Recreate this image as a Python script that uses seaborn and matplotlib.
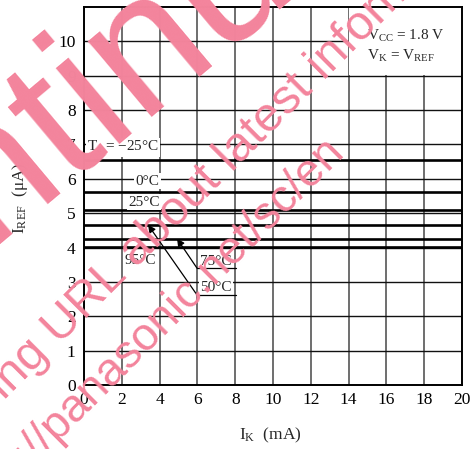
import numpy as np
import pandas as pd
import matplotlib
matplotlib.use("Agg")
import matplotlib.pyplot as plt
import seaborn as sns
from matplotlib.font_manager import FontProperties
from matplotlib.textpath import TextToPath

# Reference current vs cathode current at several ambient temperatures
temps = ["-25", "0", "25", "50", "75", "95"]
iref_ua = [6.56, 5.63, 5.10, 4.66, 4.26, 4.02]
ik_ends = [0, 20]
x_ticks = list(range(0, 21, 2))
y_ticks = list(range(0, 11))

rows = [(t, ik, v) for t, v in zip(temps, iref_ua) for ik in ik_ends]
df = pd.DataFrame(rows, columns=["Ta", "IK", "IREF"])

sns.set_theme(style="white")
plt.rcParams["font.family"] = ["Liberation Serif", "DejaVu Serif"]
plt.rcParams["mathtext.fontset"] = "custom"
plt.rcParams["mathtext.rm"] = "Liberation Serif"
plt.rcParams["mathtext.it"] = "Liberation Serif:italic"

W, H = 475, 449
fig = plt.figure(figsize=(W / 100, H / 100), dpi=100)
ax = fig.add_axes([84 / W, 1 - 385 / H, (462 - 84) / W, (385 - 7) / H])

sns.lineplot(data=df, x="IK", y="IREF", hue="Ta", palette=["black"] * len(temps),
             legend=False, lw=1.9, ax=ax, zorder=2)

ax.set_xlim(0, 20)
ax.set_ylim(0, 11)
ax.set_xticks(x_ticks)
ax.set_yticks(y_ticks)
ax.tick_params(axis="both", length=0, labelsize=12.5, colors="black")
ax.tick_params(axis="x", pad=5)
ax.tick_params(axis="y", pad=6)
ax.set_xlabel("")
ax.set_ylabel("")
for sp in ax.spines.values():
    sp.set_color("black")
    sp.set_linewidth(1.4)

ax.set_axisbelow(True)
ax.xaxis.grid(True, color="#555555", lw=1.2)
ax.yaxis.grid(True, color="#111111", lw=1.0)

# condition box in the upper right corner
ax.add_patch(plt.Rectangle((14.04, 9.03), 5.96, 1.97, facecolor="white",
                           edgecolor="none", zorder=1.5))
ax.text(14.97, 10.17, r"$\mathrm{V_{CC}}$ = 1.8 V", fontsize=11, va="center", ha="left")
ax.text(14.97, 9.59, r"$\mathrm{V_K}$ = $\mathrm{V_{REF}}$", fontsize=11, va="center", ha="left")

box = dict(facecolor="white", edgecolor="none", pad=1.0)
lab_kw = dict(fontsize=11, va="center", zorder=3, bbox=box)
ax.text(0.16, 6.92, r"$\mathrm{T_a}$ = −" + temps[0][1:] + "°C", ha="left", **lab_kw)
ax.text(4.0, 5.93, temps[1] + "°C", ha="right", **lab_kw)
ax.text(4.0, 5.32, temps[2] + "°C", ha="right", **lab_kw)
ax.text(2.99, 3.63, temps[5] + "°C", ha="center", **lab_kw)
ax.text(6.98, 3.60, temps[4] + "°C", ha="center", **lab_kw)
ax.text(6.98, 2.85, temps[3] + "°C", ha="center", **lab_kw)

# leader lines with arrows for 50 °C and 75 °C
for (tip_x, val, elbow_y) in [(3.39, iref_ua[3], 2.62), (4.92, iref_ua[4], 3.40)]:
    ax.plot([5.98, 8.04], [elbow_y, elbow_y], color="black", lw=0.9, zorder=3.5)
    ax.annotate("", xy=(tip_x, val), xytext=(5.98, elbow_y),
                arrowprops=dict(arrowstyle="-|>", color="black", lw=0.9,
                                mutation_scale=11, shrinkA=0, shrinkB=0),
                zorder=3.5)

fig.text(20 / W, 1 - 198 / H, r"$\mathrm{I_{REF}}$  (μA)", rotation=90,
         ha="center", va="center", fontsize=12.5)
fig.text(270 / W, 1 - 435 / H, r"$\mathrm{I_K}$  (mA)", ha="center",
         va="center", fontsize=12.5)

# document watermark
ttp = TextToPath()
PINK = "#F3849C"


def stamp(s, prefix, tx, ty, angle, size):
    """Place s so that the glyph following prefix starts at pixel (tx, ty)."""
    prop = FontProperties(family="Liberation Sans", size=size)
    w = (ttp.get_text_width_height_descent(prefix + "U", prop, False)[0]
         - ttp.get_text_width_height_descent("U", prop, False)[0]) * 100 / 72
    a = np.deg2rad(angle)
    ox = tx - w * np.cos(a)
    oy = ty + w * np.sin(a)
    fig.text(ox / W, 1 - oy / H, s, rotation=angle, rotation_mode="anchor",
             ha="left", va="baseline", color=PINK, fontproperties=prop, zorder=10)


stamp("Discontinued", "Discont", 107, 142, 40, 135)
stamp("Please visit following URL about latest information.",
      "Please visit following ", 60, 345, 45, 35)
stamp("http://panasonic.net/sc/en", "http://p", 75, 423, 45, 33)

fig.savefig("out.png", dpi=100)
